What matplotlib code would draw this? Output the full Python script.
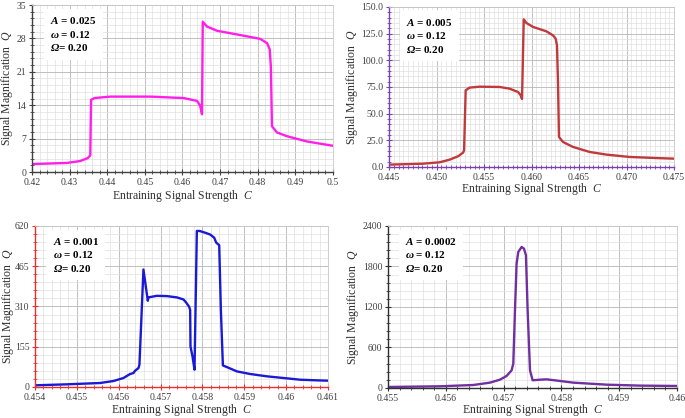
import numpy as np
import matplotlib
matplotlib.use("Agg")
import matplotlib.pyplot as plt
from matplotlib.ticker import MultipleLocator

plt.rcParams["font.family"] = "Liberation Serif"
plt.rcParams["mathtext.fontset"] = "custom"
plt.rcParams["mathtext.rm"] = "Liberation Serif"
plt.rcParams["mathtext.it"] = "Liberation Serif:italic"
plt.rcParams["mathtext.bf"] = "Liberation Serif:bold"
plt.rcParams["mathtext.bfit"] = "Liberation Serif:bold:italic"

# ---- data ----
c1 = [0.42, 0.4293, 0.4328, 0.4348, 0.4355, 0.4357, 0.4366, 0.4408, 0.4515, 0.4603,
      0.4639, 0.4647, 0.4652, 0.4654, 0.4665, 0.4692, 0.4754, 0.4807, 0.4825, 0.4832,
      0.4835, 0.4838, 0.4851, 0.4878, 0.4931, 0.5]
q1 = [1.67, 1.9, 2.3, 2.9, 3.5, 15.1, 15.5, 15.8, 15.8, 15.5,
      14.9, 13.9, 12.1, 31.5, 30.5, 29.6, 28.7, 27.9, 27.0, 25.7,
      22.1, 9.6, 8.3, 7.5, 6.4, 5.5]

c2 = [0.445, 0.44858, 0.45033, 0.45139, 0.45226, 0.45279, 0.4529, 0.45307, 0.45349, 0.45454,
      0.45665, 0.4577, 0.45858, 0.45886, 0.459, 0.45918, 0.45946, 0.46016, 0.46156, 0.46226,
      0.46254, 0.46268, 0.46279, 0.46289, 0.46332, 0.46437, 0.46612, 0.46788, 0.47033, 0.47314,
      0.475]
q2 = [2.2, 3.1, 4.4, 6.9, 10.0, 13.4, 15.6, 71.9, 74.4, 75.3,
      75.0, 73.4, 70.3, 67.2, 63.8, 138.4, 135.0, 131.3, 127.2, 123.4,
      120.3, 114.0, 78.0, 28.1, 23.4, 18.8, 14.1, 11.6, 9.4, 8.4,
      7.8]

c3 = [0.454, 0.454757, 0.455555, 0.455874, 0.456113, 0.456272, 0.456352, 0.456392, 0.456472, 0.456495,
      0.456591, 0.456695, 0.456711, 0.45691, 0.45715, 0.45739, 0.457548, 0.457612, 0.457683, 0.457707,
      0.457715, 0.457763, 0.457811, 0.457867, 0.457931, 0.458066, 0.458186, 0.458281, 0.458329, 0.458401,
      0.458441, 0.458489, 0.458584, 0.458824, 0.459142, 0.459541, 0.45994, 0.460338, 0.460737, 0.461]
q3 = [6.4, 10.2, 15.3, 23.0, 34.5, 49.9, 53.7, 62.6, 72.9, 85.6,
      452.5, 332.0, 345.0, 351.0, 350.0, 345.0, 337.0, 325.0, 309.0, 296.6,
      156.0, 117.6, 66.5, 600.8, 600.8, 594.0, 587.0, 575.0, 556.0, 546.0,
      296.0, 83.0, 76.7, 60.0, 50.0, 41.0, 34.5, 28.0, 25.6, 24.3]

c4 = [0.455, 0.455896, 0.456474, 0.456763, 0.456936, 0.457052, 0.457139, 0.457168, 0.457197, 0.457225,
      0.457254, 0.457312, 0.457353, 0.457387, 0.457416, 0.457457, 0.457503, 0.45763, 0.457746, 0.457977,
      0.458208, 0.458786, 0.459364, 0.46]
q4 = [15, 25, 44, 79, 123, 178, 262, 360, 1150, 1842,
      2015, 2089, 2064, 1965, 1150, 262, 114, 123, 128, 104,
      79, 49, 35, 30]

amps = ["0.025", "0.005", "0.001", "0.0002"]

xt1 = [0.42, 0.43, 0.44, 0.45, 0.46, 0.47, 0.48, 0.49, 0.5]
xl1 = ["0.42", "0.43", "0.44", "0.45", "0.46", "0.47", "0.48", "0.49", "0.5"]
yt1 = [0, 7, 14, 21, 28, 35]
yl1 = ["0", "7", "14", "21", "28", "35"]

xt2 = [0.445, 0.450, 0.455, 0.460, 0.465, 0.470, 0.475]
xl2 = ["0.445", "0.450", "0.455", "0.460", "0.465", "0.470", "0.475"]
yt2 = [0, 25, 50, 75, 100, 125, 150]
yl2 = ["0.0", "25.0", "50.0", "75.0", "100.0", "125.0", "150.0"]

xt3 = [0.454, 0.455, 0.456, 0.457, 0.458, 0.459, 0.46, 0.461]
xl3 = ["0.454", "0.455", "0.456", "0.457", "0.458", "0.459", "0.46", "0.461"]
yt3 = [0, 155, 310, 465, 620]
yl3 = ["0", "155", "310", "465", "620"]

xt4 = [0.455, 0.456, 0.457, 0.458, 0.459, 0.46]
xl4 = ["0.455", "0.456", "0.457", "0.458", "0.459", "0.46"]
yt4 = [0, 600, 1200, 1800, 2400]
yl4 = ["0", "600", "1200", "1800", "2400"]

panels = [
    # data, ticks, axes rect, line colour, spine colour, minor steps, label spots
    (c1, q1, xt1, xl1, yt1, yl1, [0.0467, 0.5885, 0.4393, 0.3995], "#ff1fe8", "#404040", 0.002, 1.4,
     (-0.083, -0.142)),
    (c2, q2, xt2, xl2, yt2, yl2, [0.5679, 0.6005, 0.4161, 0.3828], "#c0393b", "#7a3fb0", 0.0005, 5,
     (-0.13, -0.138)),
    (c3, q3, xt3, xl3, yt3, yl3, [0.0511, 0.0742, 0.4277, 0.3852], "#1a1ad6", "#e8302f", 0.0002, 31,
     (-0.093, -0.14)),
    (c4, q4, xt4, xl4, yt4, yl4, [0.5664, 0.0718, 0.4219, 0.3876], "#7030a0", "#303030", 0.0002, 120,
     (-0.121, -0.136)),
]

fig = plt.figure(figsize=(6.85, 4.18), dpi=100)

for i, (cx, qy, xt, xl, yt, yl, rect, col, scol, mx, my, lab) in enumerate(panels):
    ax = fig.add_axes(rect)
    ax.plot(cx, qy, color=col, lw=1.7, solid_joinstyle="round")
    ax.set_xlim(xt[0], xt[-1])
    ax.set_ylim(yt[0], yt[-1])
    ax.set_xticks(xt)
    ax.set_xticklabels(xl)
    ax.set_yticks(yt)
    ax.set_yticklabels(yl)
    ax.xaxis.set_minor_locator(MultipleLocator(mx))
    ax.yaxis.set_minor_locator(MultipleLocator(my))
    ax.grid(which="major", color="#b5b5b5", lw=0.6)
    ax.grid(which="minor", color="#e0e0e0", lw=0.5)
    ax.set_axisbelow(True)
    for s in ["top", "right"]:
        ax.spines[s].set_color("#c8c8c8")
        ax.spines[s].set_linewidth(0.6)
    for s in ["left", "bottom"]:
        ax.spines[s].set_color(scol)
        ax.spines[s].set_linewidth(1.0)
    ax.tick_params(which="both", direction="inout", colors=scol, labelcolor="#404040",
                   labelsize=7, pad=2)
    ax.tick_params(which="major", length=4, width=0.8)
    ax.tick_params(which="minor", length=2.5, width=0.6)
    ax.set_xlabel(r"Entraining Signal Strength  $\mathit{C}$", fontsize=8.5, color="#303030")
    ax.set_ylabel(r"Signal Magnification  $\mathit{Q}$", fontsize=8.5, color="#303030")
    ax.xaxis.label.set_va("center")
    ax.yaxis.label.set_va("center")
    ax.yaxis.set_label_coords(lab[0], 0.5)
    ax.xaxis.set_label_coords(0.5, lab[1])
    txt = ("$\\mathbfit{A}$ = " + amps[i] + "\n"
           "$\\mathbfit{\\omega}$ = 0.12\n"
           "$\\mathbfit{\\Omega}$= 0.20")
    ax.text(0.06, 0.94, txt, transform=ax.transAxes, fontsize=8, fontweight="bold",
            va="top", ha="left", linespacing=1.3,
            bbox=dict(boxstyle="square,pad=0.55", fc="white", ec="none"))

fig.savefig("out.png", dpi=100)
